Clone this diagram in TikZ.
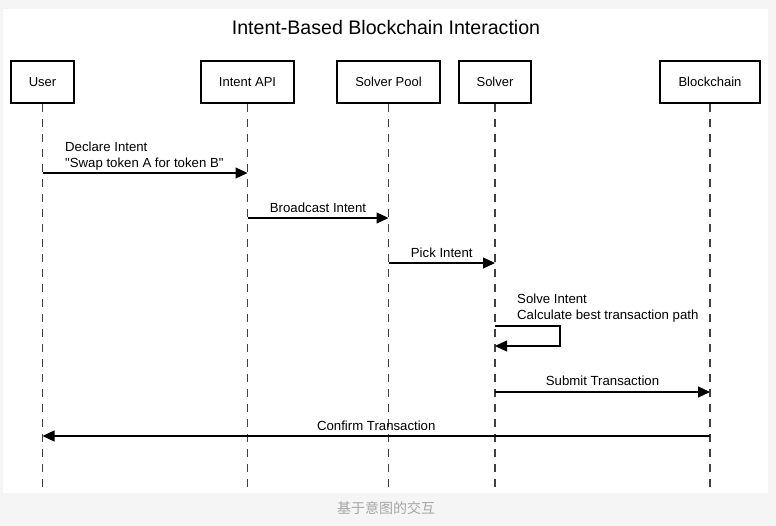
\documentclass[tikz,border=0pt]{standalone}
\usepackage{fontspec}
\setmainfont{Liberation Sans}
\newfontfamily\cjkfont{Noto Sans CJK SC}
\usetikzlibrary{arrows.meta,positioning}

\def\lifebot{490}
\def\boxrow{82}

\begin{document}
\begin{tikzpicture}[x=1pt,y=-1pt,>={Triangle[length=12pt,width=11pt]}]
    \tikzstyle{actor}=[draw,line width=2.4pt,minimum height=42pt,inner sep=0pt,font=\fontsize{13}{15}\selectfont]
    \tikzstyle{lifeline}=[draw=black!75,line width=1.6pt,dash pattern=on 8pt off 7pt]
    \tikzstyle{msg}=[->,line width=1.2pt]
    \tikzstyle{msglabel}=[font=\fontsize{13.2}{16}\selectfont,inner sep=0pt,text depth=0pt]
    \tikzstyle{note}=[font=\fontsize{13.2}{16}\selectfont,inner sep=0pt,align=left,anchor=south west]

    % background and panel
    \fill[black!4] (0,0) rectangle (776,526);
    \fill[white] (3,9) rectangle (768,493);
    \useasboundingbox (0,0) rectangle (776,526);

    \node[font=\fontsize{19.6}{22}\selectfont] (title) at (386,27) {Intent-Based Blockchain Interaction};

    % Draw the participants and their lifelines
    \foreach \name/\x/\w/\txt in {U/42.5/63/User, A/247.5/93/Intent API, P/388.5/103/Solver Pool, S/495/72/Solver, B/710/100/Blockchain} {
        \node[actor,minimum width=\w pt] (\name) at (\x,\boxrow) {\txt};
        \coordinate (\name-end) at (\x,\lifebot);
        \draw[lifeline] (\name) -- (\name-end);
    }

    % Messages between lifelines
    \foreach \i/\from/\to/\y in {1/U/A/173, 2/A/P/218, 3/P/S/263, 5/S/B/392, 6/B/U/436} {
        \coordinate (m\i-a) at (\from |- 0,\y);
        \coordinate (m\i-b) at (\to |- 0,\y);
    }
    \draw[msg] (m1-a) -- (m1-b);
    \draw[msg] (m2-a) -- node[msglabel,above=5pt] (l2) {Broadcast Intent} (m2-b);
    \draw[msg] (m3-a) -- node[msglabel,above=5pt] (l3) {Pick Intent} (m3-b);
    \draw[msg] (m5-a) -- node[msglabel,above=6pt] (l5) {Submit Transaction} (m5-b);
    \draw[msg] (m6-a) -- node[msglabel,above=5pt] (l6) {Confirm Transaction} (m6-b);

    \node[note] (l1) at (65,170) {Declare Intent\\\textquotedbl Swap token A for token B\textquotedbl};

    % Solver calls itself
    \coordinate (m4-a) at (S |- 0,326);
    \coordinate (m4-b) at (S |- 0,346);
    \draw[msg] (m4-a) -- ++(65,0) |- (m4-b);
    \node[note] (l4) at (517,322) {Solve Intent\\Calculate best transaction path};

    \node[font=\cjkfont\fontsize{14}{16}\selectfont,text=black!35] (caption) at (386,508) {基于意图的交互};
\end{tikzpicture}
\end{document}
